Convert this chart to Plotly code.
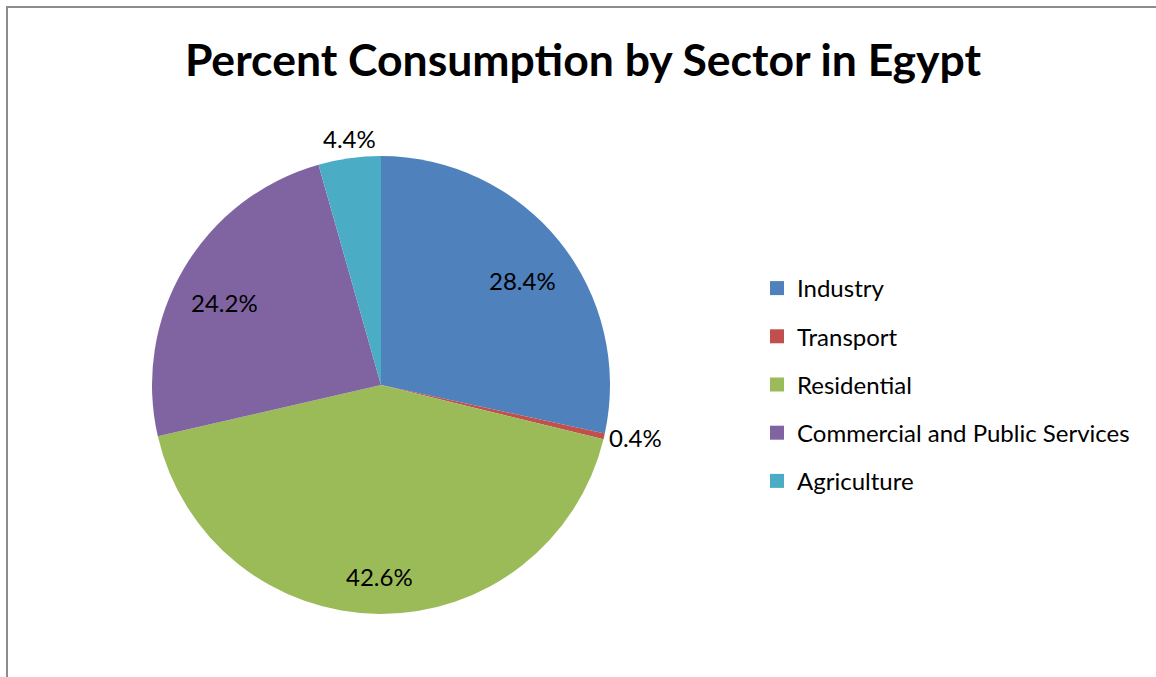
import math
import plotly.graph_objects as go

# Share of final consumption by sector
sectors = ["Industry", "Transport", "Residential", "Commercial and Public Services", "Agriculture"]
shares = [28.4, 0.4, 42.6, 24.2, 4.4]
colors = ["#4F81BD", "#C0504D", "#9BBB59", "#8064A2", "#4BACC6"]
label_inside = [True, False, True, True, False]

W, H = 1156, 677
FONT = "Lato"

# pie placement in pixels (centre and radius)
CX, CY, R = 381, 385, 229

fig = go.Figure()
fig.add_trace(go.Pie(
    labels=sectors,
    values=shares,
    sort=False,
    direction="clockwise",
    rotation=0,
    marker=dict(colors=colors, line=dict(width=0)),
    textinfo="none",
    hoverinfo="label+percent",
    showlegend=False,
    domain=dict(x=[(CX - R) / W, (CX + R) / W], y=[(H - CY - R) / H, (H - CY + R) / H]),
))

# legend entries, one group each so the vertical spacing can be set
for name, col in zip(sectors, colors):
    fig.add_trace(go.Scatter(
        x=[None], y=[None], mode="markers", name=name, legendgroup=name,
        marker=dict(symbol="square", size=14, color=col),
    ))

# percentage labels placed at each slice's mid-angle
annotations = []
total = sum(shares)
cum = 0.0
for v, inside in zip(shares, label_inside):
    theta = 2 * math.pi * (cum + v / 2) / total
    cum += v
    s, c = math.sin(theta), math.cos(theta)
    if inside:
        r = 0.794 * R
        xa, ya = "center", "middle"
        shift = -10
    else:
        r = R + 3
        xa = "left" if s > 0.3 else ("right" if s < -0.3 else "center")
        ya = "bottom" if c > 0.3 else ("top" if c < -0.3 else "middle")
        shift = 0
    px = CX + r * s
    py = CY - r * c
    annotations.append(dict(
        x=px / W, y=1 - py / H, xref="paper", yref="paper",
        text=f"{v:.1f}%", showarrow=False, xanchor=xa, yanchor=ya, yshift=shift,
        font=dict(family=FONT, size=24, color="#000000"),
    ))

fig.update_layout(
    width=W, height=H,
    margin=dict(l=0, r=0, t=0, b=0),
    paper_bgcolor="white",
    plot_bgcolor="white",
    title=dict(
        text="<b>Percent Consumption by Sector in Egypt</b>",
        x=583 / W, xanchor="center", y=1 - 60 / H, yanchor="middle",
        font=dict(family=FONT, size=44.5, color="#000000"),
    ),
    xaxis=dict(visible=False),
    yaxis=dict(visible=False),
    legend=dict(
        x=757 / W, xanchor="left", y=1 - 266 / H, yanchor="top",
        font=dict(family=FONT, size=24, color="#000000"),
        traceorder="grouped", tracegroupgap=14,
        itemclick=False, itemdoubleclick=False,
        bgcolor="rgba(0,0,0,0)",
    ),
    annotations=annotations,
    shapes=[dict(
        type="rect", xref="paper", yref="paper",
        x0=7 / W, x1=1.01, y0=-0.02, y1=1 - 7 / H,
        line=dict(color="#8C8C8C", width=2), layer="above",
    )],
)

fig.write_html("out.html")
